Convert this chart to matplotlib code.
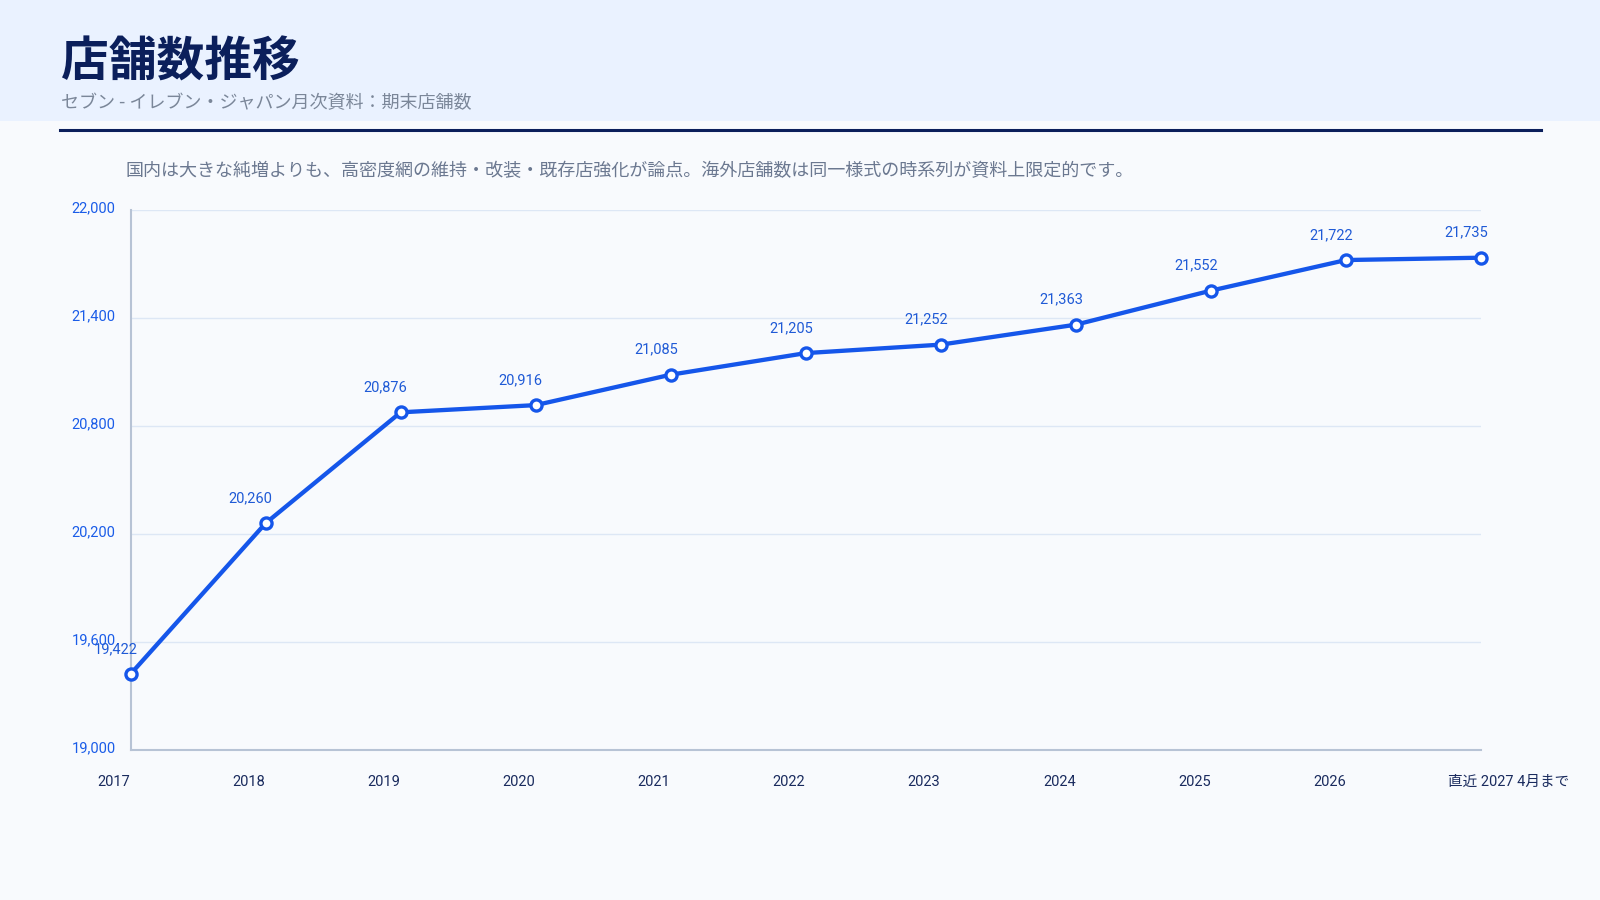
import matplotlib
matplotlib.use("Agg")
import matplotlib.pyplot as plt
from matplotlib.patches import Rectangle
from matplotlib.lines import Line2D

# ---- data ----
categories = ["2017", "2018", "2019", "2020", "2021", "2022", "2023", "2024", "2025", "2026", "直近 2027 4月まで"]
stores = [19422, 20260, 20876, 20916, 21085, 21205, 21252, 21363, 21552, 21722, 21735]
y_ticks = [19000, 19600, 20200, 20800, 21400, 22000]

title = "店舗数推移"
subtitle = "セブン - イレブン・ジャパン月次資料：期末店舗数"
note = "国内は大きな純増よりも、高密度網の維持・改装・既存店強化が論点。海外店舗数は同一様式の時系列が資料上限定的です。"

CJK = "Noto Sans CJK JP"
num_fam = ["Roboto", CJK]

W, H = 1600, 900
fig = plt.figure(figsize=(16, 9), dpi=100)
fig.patch.set_facecolor("#F8FAFD")

fig.patches.append(Rectangle((0, 1 - 121 / H), 1, 121 / H, transform=fig.transFigure,
                             facecolor="#EAF2FF", edgecolor="none", zorder=0))
fig.lines.append(Line2D([60 / W, 1541 / W], [1 - 130 / H, 1 - 130 / H], transform=fig.transFigure,
                        color="#0B1F5B", lw=2.2))

fig.text(61 / W, 1 - 62 / H, title, family=[CJK], fontsize=34.4, fontweight="bold",
         color="#0B1F5B", va="center", ha="left")
fig.text(61 / W, 1 - 103 / H, subtitle, family=[CJK], fontsize=13,
         color="#7B8799", va="center", ha="left")
fig.text(125.5 / W, 1 - 171 / H, note, family=[CJK], fontsize=13,
         color="#6B7890", va="center", ha="left")

ax = fig.add_axes([130.6 / W, 1 - 750 / H, (1481 - 130.6) / W, (750 - 210) / H])
ax.set_facecolor("#F8FAFD")
x = list(range(len(stores)))
ax.plot(x, stores, color="#1556EA", lw=3.1, marker="o", markersize=8,
        markerfacecolor="white", markeredgecolor="#1556EA", markeredgewidth=2.4,
        zorder=3, clip_on=False)
ax.set_xlim(0, len(stores) - 1)
ax.set_ylim(19000, 22000)
ax.set_yticks(y_ticks)
ax.set_yticklabels([])
ax.set_xticks(x)
ax.set_xticklabels([])
ax.tick_params(axis="both", length=0)
ax.grid(axis="y", color="#DDE7F5", lw=1)
ax.set_axisbelow(True)
for s in ["top", "right"]:
    ax.spines[s].set_visible(False)
for s in ["left", "bottom"]:
    ax.spines[s].set_color("#B7C3D5")
    ax.spines[s].set_linewidth(1.5)

for v in y_ticks:
    ax.annotate(f"{v:,}", xy=(0, v), xycoords=("axes fraction", "data"), xytext=(-15, 2),
                textcoords="offset pixels", ha="right", va="center", fontsize=10.5,
                color="#1A5CE8", family=num_fam, annotation_clip=False)

for xi, (cat, v) in enumerate(zip(categories, stores)):
    ax.annotate(f"{v:,}", xy=(xi, v), xytext=(-15, 25), textcoords="offset pixels",
                ha="center", va="center", fontsize=10.5, color="#1F5AD6", family=num_fam, zorder=4)
    ax.annotate(cat, xy=(xi, 0), xycoords=("data", "axes fraction"), xytext=(-33, -32),
                textcoords="offset pixels", ha="left", va="center", fontsize=10.5,
                color="#1A2B5E", family=num_fam, annotation_clip=False)

fig.savefig("out.png", dpi=100, facecolor=fig.get_facecolor())
